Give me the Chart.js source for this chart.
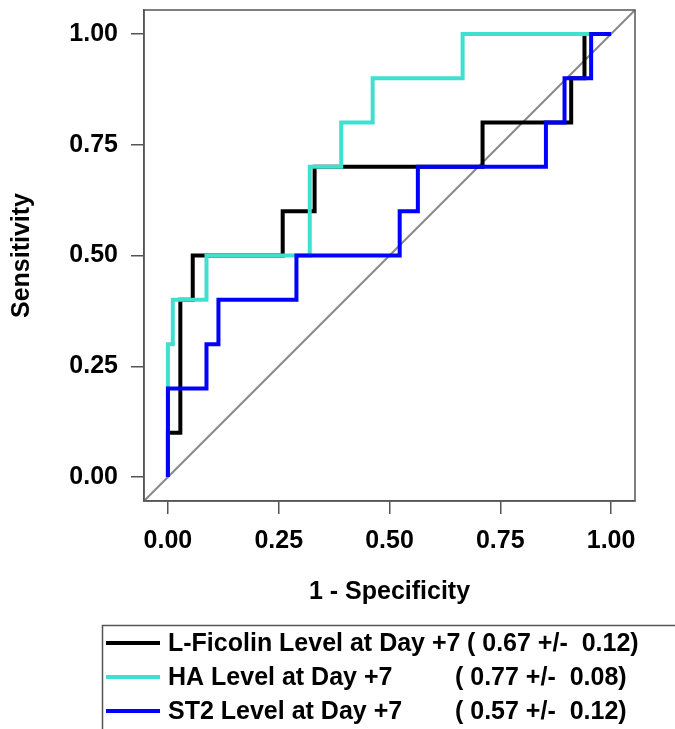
<!DOCTYPE html>
<html>
<head>
<meta charset="utf-8">
<script src="https://cdn.jsdelivr.net/npm/chart.js@4.4.1/dist/chart.umd.min.js"></script>
<style>
  html, body { margin: 0; padding: 0; background: #ffffff; }
  #wrap { width: 675px; height: 729px; }
</style>
</head>
<body>
<div id="wrap"><canvas id="c" width="675" height="729"></canvas></div>
<script>
// ---- data ----
const seriesNames = ['L-Ficolin Level at Day +7', 'HA Level at Day +7', 'ST2 Level at Day +7'];
const aucLabels = ['( 0.67 +/-  0.12)', '( 0.77 +/-  0.08)', '( 0.57 +/-  0.12)'];

const lficolinFpr = [0, 0, 0.028, 0.028, 0.056, 0.056, 0.259, 0.259, 0.331, 0.331, 0.710, 0.710, 0.910, 0.910, 0.940, 0.940, 1];
const lficolinTpr = [0, 0.1, 0.1, 0.4, 0.4, 0.5, 0.5, 0.6, 0.6, 0.7, 0.7, 0.8, 0.8, 0.9, 0.9, 1, 1];

const haFpr = [0, 0, 0.011, 0.011, 0.087, 0.087, 0.320, 0.320, 0.391, 0.391, 0.462, 0.462, 0.665, 0.665, 1];
const haTpr = [0, 0.3, 0.3, 0.4, 0.4, 0.5, 0.5, 0.7, 0.7, 0.8, 0.8, 0.9, 0.9, 1, 1];

const st2Fpr = [0, 0, 0.087, 0.087, 0.114, 0.114, 0.290, 0.290, 0.523, 0.523, 0.564, 0.564, 0.853, 0.853, 0.895, 0.895, 0.955, 0.955, 1];
const st2Tpr = [0, 0.2, 0.2, 0.3, 0.3, 0.4, 0.4, 0.5, 0.5, 0.6, 0.6, 0.7, 0.7, 0.8, 0.8, 0.9, 0.9, 1, 1];

const tickValues = [0, 0.25, 0.5, 0.75, 1];
const tickLabels = ['0.00', '0.25', '0.50', '0.75', '1.00'];
const axisMin = -0.054, axisMax = 1.054;
const diagonalX = [axisMin, axisMax];
const diagonalY = [axisMin, axisMax];

// ---- build ----
const toPts = (xs, ys) => xs.map((x, i) => ({ x: x, y: ys[i] }));
const FONT = "'Liberation Sans', Arial, Helvetica, sans-serif";
const colors = ['#000000', '#40E0D0', '#0000FF'];

const boxAndLegend = {
  id: 'boxAndLegend',
  afterDatasetsDraw(chart) {
    const { ctx, chartArea: a } = chart;
    ctx.save();
    ctx.strokeStyle = '#555555';
    ctx.lineWidth = 1.5;
    ctx.strokeRect(a.left, a.top, a.right - a.left, a.bottom - a.top);
    ctx.restore();
  },
  afterDraw(chart) {
    const ctx = chart.ctx;
    ctx.save();
    ctx.strokeStyle = '#555555';
    ctx.lineWidth = 1.5;
    ctx.strokeRect(102.5, 625.5, 700, 200);
    const parenX = [467, 455, 455];
    const ds = chart.data.datasets.filter(d => d.isSeries);
    ds.forEach((d, i) => {
      const y = 643 + 34 * i;
      ctx.strokeStyle = d.borderColor;
      ctx.lineWidth = 4;
      ctx.beginPath();
      ctx.moveTo(106, y);
      ctx.lineTo(160, y);
      ctx.stroke();
      ctx.fillStyle = '#000000';
      ctx.font = "bold 25px " + FONT;
      ctx.textBaseline = 'middle';
      ctx.textAlign = 'left';
      ctx.fillText(d.label, 168, y + 1);
      ctx.fillText(aucLabels[i], parenX[i], y + 1);
    });
    ctx.restore();
  }
};

const axisCommon = {
  type: 'linear',
  min: axisMin,
  max: axisMax,
  afterBuildTicks: (s) => { s.ticks = tickValues.map(v => ({ value: v })); },
  grid: { drawOnChartArea: false, drawTicks: true, tickLength: 13, color: '#555555', lineWidth: 1.5 },
  border: { display: true, color: '#555555', width: 1.5 },
};

new Chart(document.getElementById('c'), {
  type: 'line',
  data: {
    datasets: [
      { label: 'diagonal', data: toPts(diagonalX, diagonalY), borderColor: '#888888', borderWidth: 2, pointRadius: 0, order: 4, isSeries: false },
      { label: seriesNames[0], data: toPts(lficolinFpr, lficolinTpr), borderColor: colors[0], borderWidth: 4, pointRadius: 0, order: 3, isSeries: true, borderJoinStyle: 'miter', borderCapStyle: 'butt' },
      { label: seriesNames[1], data: toPts(haFpr, haTpr), borderColor: colors[1], borderWidth: 4, pointRadius: 0, order: 2, isSeries: true, borderJoinStyle: 'miter', borderCapStyle: 'butt' },
      { label: seriesNames[2], data: toPts(st2Fpr, st2Tpr), borderColor: colors[2], borderWidth: 4, pointRadius: 0, order: 1, isSeries: true, borderJoinStyle: 'miter', borderCapStyle: 'butt' }
    ]
  },
  options: {
    responsive: false,
    animation: false,
    layout: { padding: { top: 10, right: 40, left: 0, bottom: 0 } },
    plugins: { legend: { display: false }, tooltip: { enabled: false } },
    scales: {
      x: Object.assign({}, axisCommon, {
        position: 'bottom',
        afterFit: (s) => { s.height = 228; s.paddingLeft = 0; s.paddingRight = 0; },
        ticks: { padding: 12, color: '#000000', font: { family: FONT, size: 25, weight: 'bold' }, maxRotation: 0,
                 callback: (v) => tickLabels[tickValues.indexOf(v)] },
        title: { display: true, text: '1 - Specificity', color: '#000000', font: { family: FONT, size: 25, weight: 'bold' }, padding: { top: 0, bottom: 122 } }
      }),
      y: Object.assign({}, axisCommon, {
        position: 'left',
        afterFit: (s) => { s.width = 144; s.paddingTop = 0; s.paddingBottom = 0; },
        ticks: { padding: 13, color: '#000000', font: { family: FONT, size: 25, weight: 'bold' },
                 callback: (v) => tickLabels[tickValues.indexOf(v)] },
        title: { display: true, text: 'Sensitivity', color: '#000000', font: { family: FONT, size: 25, weight: 'bold' }, padding: { top: 7, bottom: 0 } }
      })
    }
  },
  plugins: [boxAndLegend]
});
</script>
</body>
</html>
